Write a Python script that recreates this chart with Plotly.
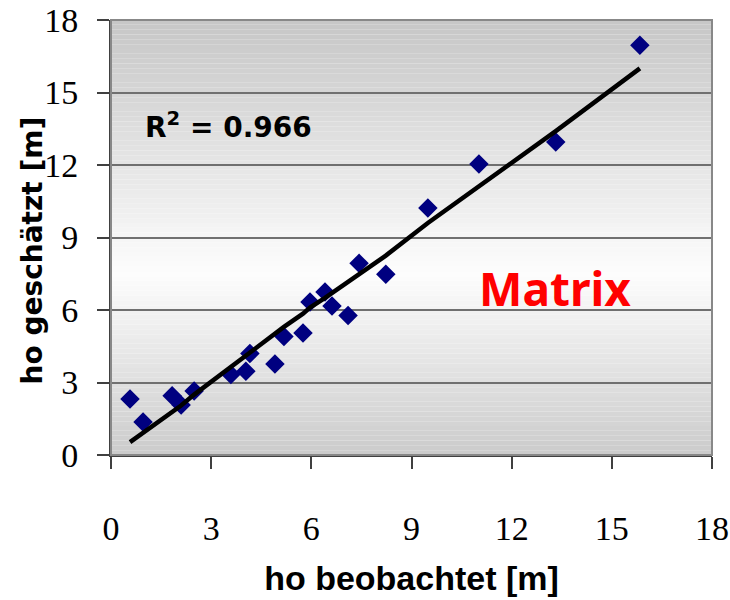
import plotly.graph_objects as go

ho_beobachtet = [0.57, 0.96, 1.83, 2.10, 2.49, 3.59, 4.04, 4.16, 4.91, 5.18, 5.75,
                 5.96, 6.41, 6.62, 7.10, 7.43, 8.23, 9.49, 11.02, 13.32, 15.84]
ho_geschaetzt = [2.32, 1.37, 2.45, 2.07, 2.65, 3.33, 3.47, 4.20, 3.77, 4.90, 5.05,
                 6.33, 6.74, 6.17, 5.77, 7.93, 7.48, 10.22, 12.04, 12.95, 16.96]
# Fitted line values at the observed x
fit_line = [0.53, 0.92, 1.75, 2.05, 2.50, 3.65, 4.15, 4.28, 5.05, 5.30, 5.85,
            6.10, 6.50, 6.70, 7.15, 7.45, 8.25, 9.60, 11.10, 13.40, 16.00]
tick_vals = [0, 3, 6, 9, 12, 15, 18]
r2_text = "R<sup>2</sup> = 0.966"
label_text = "Matrix"
x_title = "ho beobachtet [m]"
y_title = "ho geschätzt [m]"

fig = go.Figure()

fig.add_trace(go.Scatter(
    x=ho_beobachtet, y=ho_geschaetzt, mode="markers",
    marker=dict(symbol="diamond", size=15, color="#000080",
                line=dict(width=0)),
    showlegend=False, hoverinfo="x+y"))

fig.add_trace(go.Scatter(
    x=ho_beobachtet, y=fit_line, mode="lines",
    line=dict(color="black", width=4.5), showlegend=False))

# gradient background (grey - white - grey)
shapes = []
N = 90
for i in range(N):
    y0 = 18 * i / N
    y1 = 18 * (i + 1) / N
    ym = (y0 + y1) / 2
    if ym >= 7.5:
        v = 253 - (ym - 7.5) / 10.5 * 55
    else:
        v = 203 + ym / 7.5 * 50
    v = int(round(v))
    shapes.append(dict(type="rect", xref="paper", yref="y", x0=0, x1=1,
                       y0=y0, y1=y1, fillcolor=f"rgb({v},{v},{v})",
                       line=dict(width=0), layer="below"))
# plot border (top/right grey)
shapes.append(dict(type="rect", xref="paper", yref="paper", x0=0, x1=1, y0=0, y1=1,
                   line=dict(color="#888888", width=2), layer="above"))

fig.update_layout(
    width=730, height=600,
    margin=dict(l=111, r=18, t=20, b=145, autoexpand=False),
    paper_bgcolor="white", plot_bgcolor="white",
    shapes=shapes,
    annotations=[
        dict(x=0.95, y=13.65, xref="x", yref="y", text=r2_text, showarrow=False,
             xanchor="left", yanchor="middle",
             font=dict(family="DejaVu Sans", size=28, color="black", weight="bold")),
        dict(x=13.3, y=6.9, xref="x", yref="y", text=label_text, showarrow=False,
             xanchor="center", yanchor="middle",
             font=dict(family="Noto Sans", size=46, color="#ff0000", weight="bold")),
        dict(x=-0.13, y=0.47, xref="paper", yref="paper", text=y_title, showarrow=False,
             textangle=-90, xanchor="center", yanchor="middle",
             font=dict(family="DejaVu Sans", size=28, color="black", weight="bold")),
    ],
)

fig.update_xaxes(
    range=[0, 18], tickvals=tick_vals, ticktext=[str(v) for v in tick_vals],
    showgrid=False, zeroline=False, automargin=False,
    showline=True, linecolor="#404040", linewidth=2,
    ticks="outside", ticklen=12, tickwidth=1.5, tickcolor="#404040",
    ticklabelstandoff=30, ticklabeloverflow="allow",
    tickfont=dict(family="Liberation Serif", size=34, color="black"),
    title=dict(text=x_title, standoff=20,
               font=dict(family="Liberation Sans", size=34, color="black", weight="bold")),
)
fig.update_yaxes(
    range=[0, 18], tickvals=tick_vals, ticktext=[str(v) for v in tick_vals],
    showgrid=True, gridcolor="#707070", gridwidth=1.5, zeroline=False, automargin=False,
    showline=True, linecolor="#404040", linewidth=2,
    ticks="outside", ticklen=12, tickwidth=1.5, tickcolor="#404040",
    ticklabelstandoff=12, ticklabeloverflow="allow",
    tickfont=dict(family="Liberation Serif", size=34, color="black"),
)

fig.write_html("out.html",
               config={"displayModeBar": False},
               post_script="document.body.style.margin='0';"
                           "document.body.style.overflow='hidden';")
